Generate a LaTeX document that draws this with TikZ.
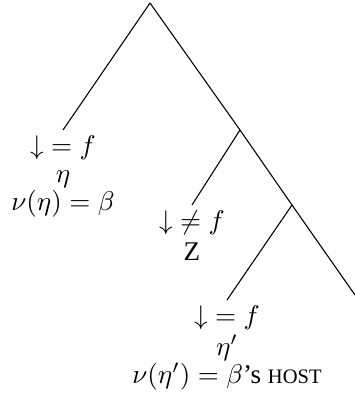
\documentclass[tikz,border=0pt]{standalone}
\usepackage{amsmath,amssymb}
\usepackage{fontspec}
\setmainfont{Liberation Serif}
\usepackage{tikz}
\usetikzlibrary{calc}

\begin{document}
\begin{tikzpicture}[
    x=0.37pt, y=-0.37pt,
    branch/.style={draw=black, line width=0.4pt},
    leafn/.style={align=center, anchor=north, inner xsep=0pt,
                  inner ysep=1.8pt, font=\normalsize}
  ]
  \useasboundingbox (0,0) rectangle (355,399);

  %% Branching points
  \coordinate (root) at (150,3);
  \coordinate (b1) at (240,130);
  \coordinate (b2) at (292,205);
  \coordinate (tip) at (355,295);

  %% Leaves
  \node[leafn] (eta) at (63,130)
        {${\downarrow} = f$\\[-1.5pt] $\eta$\\[-1.5pt] $\nu(\eta) = \beta$};
  \node[leafn] (zed) at (192,205) {${\downarrow} \neq f$\\[-0.5pt] Z};
  \node[leafn] (etap) at (227,300)
        {${\downarrow} = f$\\[-0.5pt] $\eta'$\\[-1.5pt]
         $\nu(\eta') = \beta$'s {\fontsize{7.6}{9}\selectfont HOST}};

  %% Branches
  \draw[branch] (root) -- (eta.north);
  \draw[branch] (root) -- (b1);
  \draw[branch] (b1) -- (zed.north);
  \draw[branch] (b1) -- (b2);
  \draw[branch] (b2) -- (etap.north);
  \draw[branch] (b2) -- (tip);

\end{tikzpicture}
\end{document}
